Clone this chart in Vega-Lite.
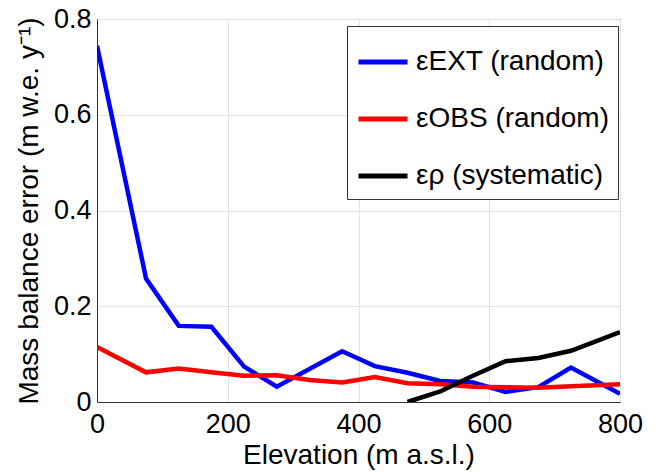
{
  "$schema": "https://vega.github.io/schema/vega-lite/v6.json",
  "autosize": {"type": "none"},
  "width": 523,
  "height": 383,
  "padding": {"left": 97, "top": 19, "right": 40, "bottom": 73},
  "background": "white",
  "config": {
    "font": "Liberation Sans",
    "view": {"stroke": "#333333", "strokeWidth": 1},
    "axis": {
      "labelFont": "Liberation Sans",
      "titleFont": "Liberation Sans",
      "labelFontSize": 27,
      "titleFontSize": 28,
      "titleFontWeight": "normal",
      "labelColor": "black",
      "titleColor": "black",
      "domainColor": "#333333",
      "tickColor": "#333333",
      "gridColor": "#e3e3e3",
      "gridWidth": 1
    }
  },
  "data": {
    "values": [
      {"elev": 0, "err": 0.744, "series": "εEXT (random)"},
      {"elev": 75, "err": 0.258, "series": "εEXT (random)"},
      {"elev": 125, "err": 0.159, "series": "εEXT (random)"},
      {"elev": 175, "err": 0.157, "series": "εEXT (random)"},
      {"elev": 225, "err": 0.074, "series": "εEXT (random)"},
      {"elev": 275, "err": 0.032, "series": "εEXT (random)"},
      {"elev": 375, "err": 0.106, "series": "εEXT (random)"},
      {"elev": 425, "err": 0.075, "series": "εEXT (random)"},
      {"elev": 475, "err": 0.061, "series": "εEXT (random)"},
      {"elev": 525, "err": 0.044, "series": "εEXT (random)"},
      {"elev": 575, "err": 0.041, "series": "εEXT (random)"},
      {"elev": 625, "err": 0.021, "series": "εEXT (random)"},
      {"elev": 675, "err": 0.031, "series": "εEXT (random)"},
      {"elev": 725, "err": 0.072, "series": "εEXT (random)"},
      {"elev": 800, "err": 0.017, "series": "εEXT (random)"},
      {"elev": 0, "err": 0.115, "series": "εOBS (random)"},
      {"elev": 75, "err": 0.062, "series": "εOBS (random)"},
      {"elev": 125, "err": 0.07, "series": "εOBS (random)"},
      {"elev": 175, "err": 0.062, "series": "εOBS (random)"},
      {"elev": 225, "err": 0.055, "series": "εOBS (random)"},
      {"elev": 275, "err": 0.056, "series": "εOBS (random)"},
      {"elev": 325, "err": 0.046, "series": "εOBS (random)"},
      {"elev": 375, "err": 0.041, "series": "εOBS (random)"},
      {"elev": 425, "err": 0.052, "series": "εOBS (random)"},
      {"elev": 475, "err": 0.039, "series": "εOBS (random)"},
      {"elev": 525, "err": 0.037, "series": "εOBS (random)"},
      {"elev": 575, "err": 0.032, "series": "εOBS (random)"},
      {"elev": 625, "err": 0.031, "series": "εOBS (random)"},
      {"elev": 675, "err": 0.03, "series": "εOBS (random)"},
      {"elev": 725, "err": 0.033, "series": "εOBS (random)"},
      {"elev": 800, "err": 0.037, "series": "εOBS (random)"},
      {"elev": 475, "err": 0.0, "series": "ερ (systematic)"},
      {"elev": 525, "err": 0.022, "series": "ερ (systematic)"},
      {"elev": 575, "err": 0.055, "series": "ερ (systematic)"},
      {"elev": 625, "err": 0.085, "series": "ερ (systematic)"},
      {"elev": 675, "err": 0.092, "series": "ερ (systematic)"},
      {"elev": 725, "err": 0.107, "series": "ερ (systematic)"},
      {"elev": 800, "err": 0.146, "series": "ερ (systematic)"}
    ]
  },
  "mark": {"type": "line", "strokeWidth": 4.5, "clip": true},
  "encoding": {
    "x": {
      "field": "elev", "type": "quantitative",
      "scale": {"domain": [0, 800], "nice": false},
      "axis": {"values": [0, 200, 400, 600, 800], "title": "Elevation (m a.s.l.)", "tickSize": 0, "labelPadding": 9, "titlePadding": 4, "labelFlush": false}
    },
    "y": {
      "field": "err", "type": "quantitative",
      "scale": {"domain": [0, 0.8], "nice": false},
      "axis": {"values": [0, 0.2, 0.4, 0.6, 0.8], "labelExpr": "datum.value == 0 ? '0' : format(datum.value, '.1f')", "title": "Mass balance error (m w.e. y⁻¹)", "tickSize": 0, "labelPadding": 6, "titlePadding": 10, "labelFlush": false}
    },
    "color": {
      "field": "series", "type": "nominal",
      "sort": ["εEXT (random)", "εOBS (random)", "ερ (systematic)"],
      "scale": {"domain": ["εEXT (random)", "εOBS (random)", "ερ (systematic)"], "range": ["#0000ff", "#ff0000", "#000000"]},
      "legend": {
        "title": null,
        "orient": "none",
        "legendX": 250,
        "legendY": 7,
        "symbolType": "stroke",
        "symbolStrokeWidth": 5,
        "symbolSize": 2400,
        "labelFontSize": 28,
        "labelLimit": 0,
        "labelFont": "Liberation Sans",
        "labelColor": "black",
        "labelOffset": 6,
        "rowPadding": 16,
        "padding": 9,
        "strokeColor": "#333333",
        "fillColor": "white"
      }
    }
  }
}
